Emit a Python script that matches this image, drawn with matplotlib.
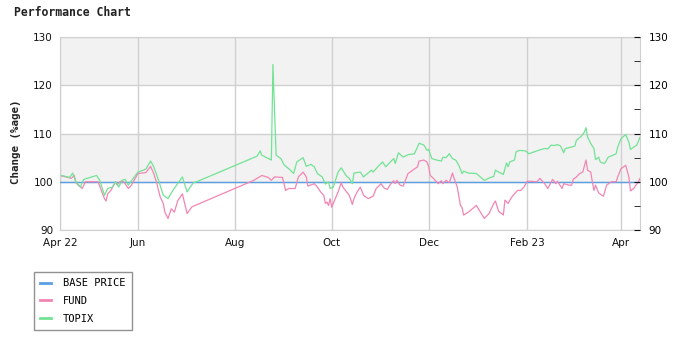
import pandas as pd
import matplotlib
matplotlib.use("Agg")
import matplotlib.pyplot as plt
from matplotlib.lines import Line2D

# === data ===
start_date = "2022-04-13"
end_date = "2023-04-13"

# days after start_date
topix_day = [1, 6, 8, 10, 13, 14, 15, 23, 25, 28, 30, 33, 35, 37, 39, 41, 43,
             49, 54, 57, 59, 62, 65, 68, 71, 74, 77, 80, 82, 84, 86,
             124, 126, 127, 133, 134, 136, 139, 141, 145, 147, 149, 153, 155,
             158, 160, 162, 165, 167, 169, 170, 172, 175, 177, 180, 182, 184,
             185, 189, 191, 196, 197, 200, 203, 205, 207, 210, 211, 213, 216,
             219, 223, 225, 226, 229, 231, 232, 234, 237, 240, 241, 243, 245,
             247, 249, 251, 253, 254, 257, 262, 267, 271, 273, 274, 276, 278,
             279, 281, 282, 283, 286, 287, 289, 293, 295, 301, 305, 307, 309,
             311, 313, 315, 317, 318, 322, 324, 325, 328, 330, 331, 332, 334,
             336, 337, 339, 340, 342, 343, 345, 348, 350, 351, 353, 356, 358,
             359, 363, 365]
topix = [101.3, 100.9, 101.8, 100.0, 98.9, 99.9, 100.5, 101.3, 100.3, 97.2,
         98.6, 98.9, 100.0, 98.9, 100.3, 100.5, 99.3,
         102.0, 102.6, 104.3, 103.1, 100.3, 97.2, 96.5, 98.2, 99.6, 101.0,
         97.9, 98.9, 99.8, 100.0,
         105.3, 106.4, 105.5, 104.5, 124.3, 105.5, 104.8, 103.5, 102.4, 101.7,
         104.1, 105.0, 103.2, 103.6, 103.1, 101.7, 101.0, 99.5, 100.0, 98.6,
         98.9, 102.0, 102.9, 101.3, 100.7, 99.6, 101.8, 102.0, 101.0, 102.4,
         102.0, 103.1, 104.1, 103.1, 103.8, 104.8, 103.8, 106.0, 105.1, 105.6,
         105.8, 107.2, 108.0, 107.6, 106.5, 106.7, 104.8, 104.5, 104.3, 105.1,
         105.0, 105.8, 104.8, 104.5, 103.4, 101.7, 102.2, 101.8, 101.7, 100.3,
         100.9, 101.1, 102.4, 102.0, 101.7, 101.5, 103.9, 103.1, 104.1, 104.5,
         106.2, 106.5, 106.4, 105.8, 106.5, 106.9, 106.8, 107.6, 107.5, 107.7,
         107.4, 106.0, 106.9, 107.2, 107.4, 108.6, 109.4, 110.3, 111.2, 109.3,
         107.9, 106.9, 104.6, 105.1, 104.1, 103.8, 103.9, 105.1, 105.5, 105.8,
         107.2, 108.9, 109.8, 108.2, 106.7, 107.6, 109.2]

fund_day = [1, 4, 7, 9, 10, 12, 13, 14, 16, 24, 26, 28, 29, 30, 32, 35, 36,
            38, 40, 41, 43, 45, 49, 54, 57, 59, 61, 63, 65, 66, 68, 70, 72,
            74, 77, 80, 83,
            122, 127, 131, 133, 135, 140, 142, 144, 148, 150, 153, 155, 156,
            160, 162, 164, 166, 167, 168, 169, 170, 171, 172, 175, 177, 178,
            182, 184, 185, 187, 189, 191, 194, 197, 199, 200, 202, 204, 206,
            208, 210, 211, 212, 214, 216, 219, 222, 225, 226, 229, 231, 232,
            233, 235, 238, 240, 241, 243, 245, 247, 248, 250, 252, 253, 254,
            257, 262, 267, 270, 273, 274, 276, 279, 280, 282, 284, 286, 288,
            290, 292, 294, 296, 300, 302, 305, 307, 310, 312, 313, 316, 317,
            320, 322, 323, 325, 327, 329, 331, 332, 334, 335, 336, 337, 339,
            341, 342, 344, 347, 350, 351, 353, 356, 358, 359, 361, 364, 365]
fund = [101.2, 101.0, 100.7, 101.3, 99.8, 99.1, 98.9, 98.6, 100.0, 100.0,
        98.2, 96.5, 96.0, 97.5, 98.2, 100.0, 99.3, 100.1, 100.0, 99.6, 98.6,
        99.3, 101.7, 101.9, 103.2, 101.7, 99.6, 96.9, 95.5, 93.7, 92.4, 94.4,
        93.7, 96.0, 97.5, 93.4, 94.8,
        100.3, 101.3, 100.9, 100.3, 101.0, 100.9, 98.2, 98.6, 98.6, 101.0,
        102.0, 101.0, 99.1, 99.6, 98.9, 97.9, 97.2, 95.5, 95.8, 95.1, 96.5,
        94.7, 95.5, 97.9, 99.8, 98.9, 97.2, 95.3, 96.5, 97.9, 98.9, 97.2,
        96.5, 97.0, 98.6, 98.9, 99.6, 98.7, 98.4, 99.5, 100.2, 99.6, 100.3,
        99.3, 99.1, 101.7, 102.4, 103.1, 104.3, 104.5, 104.1, 103.1, 101.3,
        100.7, 99.6, 100.2, 99.6, 100.3, 99.8, 101.8, 100.7, 98.9, 95.1, 94.7,
        93.1, 93.7, 95.1, 92.4, 93.4, 95.5, 96.0, 93.9, 93.1, 96.2, 95.5,
        96.7, 97.5, 98.2, 98.2, 98.9, 100.1, 100.1, 100.0, 100.7, 99.6, 98.6,
        100.5, 99.6, 100.1, 98.6, 99.6, 99.3, 99.3, 100.5, 101.0, 101.7,
        102.0, 104.5, 102.4, 102.0, 100.0, 98.2, 99.3, 97.7, 97.2, 97.0, 99.3,
        100.0, 100.0, 101.0, 102.7, 103.4, 101.0, 98.1, 98.6, 100.0, 100.7]

base_price = 100
tick_dates = ["2022-04-13", "2022-06-01", "2022-08-01", "2022-10-01",
              "2022-12-01", "2023-02-01", "2023-04-01"]
tick_labels = ["Apr 22", "Jun", "Aug", "Oct", "Dec", "Feb 23", "Apr"]
series_names = ["BASE PRICE", "FUND", "TOPIX"]

# === colours / fonts ===
c_base = "#5b9fe3"
c_fund = "#f285b4"
c_topix = "#72e394"
mono = "DejaVu Sans Mono"

t0 = pd.Timestamp(start_date)
topix_x = t0 + pd.to_timedelta(topix_day, unit="D")
fund_x = t0 + pd.to_timedelta(fund_day, unit="D")

fig = plt.figure(figsize=(6.8, 3.5), dpi=100)
ax = fig.add_axes([60 / 680, 1 - 230 / 350, 580 / 680, 193 / 350])

x0, x1 = t0, pd.Timestamp(end_date)
ax.set_xlim(x0, x1)
ax.set_ylim(90, 130)

# alternating bands
for lo in (100, 120):
    ax.axhspan(lo, lo + 10, color="#f2f2f2", zorder=0, lw=0)

ax.set_yticks([90, 100, 110, 120, 130])
ax.set_xticks(pd.to_datetime(tick_dates))
ax.set_xticklabels(tick_labels)
ax.grid(True, color="#d0d0d0", linewidth=1.0, zorder=1)
ax.set_axisbelow(True)
for s in ax.spines.values():
    s.set_color("#d0d0d0")
ax.tick_params(axis="both", length=0, labelsize=7.5, colors="#111111")
ax.tick_params(axis="y", pad=5)
ax.tick_params(axis="x", pad=6)

ax.axhline(base_price, color=c_base, linewidth=1.0, zorder=3)
ax.plot(fund_x, fund, color=c_fund, linewidth=0.9, zorder=4)
ax.plot(topix_x, topix, color=c_topix, linewidth=0.9, zorder=4)

# right hand axis
ax2 = ax.twinx()
ax2.set_ylim(90, 130)
ax2.set_yticks([90, 100, 110, 120, 130])
ax2.set_yticks([95, 105, 115, 125], minor=True)
ax2.tick_params(axis="y", which="both", direction="in", length=4,
                color="#111111", labelsize=7.5, pad=6)
for s in ax2.spines.values():
    s.set_visible(False)

fig.text(14 / 680, 1 - 13 / 350, "Performance Chart", family=mono,
         fontweight="bold", fontsize=8.3, va="center", ha="left",
         color="#222222")
fig.text(16 / 680, 1 - 142 / 350, "Change (%age)", family=mono,
         fontweight="bold", fontsize=7.8, rotation=90, va="center",
         ha="center", color="#222222")

handles = [Line2D([], [], color=c, linewidth=2) for c in (c_base, c_fund, c_topix)]
leg = fig.legend(handles, series_names, loc="upper left",
                 bbox_to_anchor=(34 / 680, 1 - 272 / 350),
                 prop={"family": mono, "size": 7.5}, frameon=True,
                 fancybox=False, handlelength=1.0, handletextpad=1.2,
                 borderpad=0.6, labelspacing=0.75, borderaxespad=0)
leg.get_frame().set_edgecolor("#777777")
leg.get_frame().set_linewidth(1.0)

fig.savefig("out.png", dpi=100)
